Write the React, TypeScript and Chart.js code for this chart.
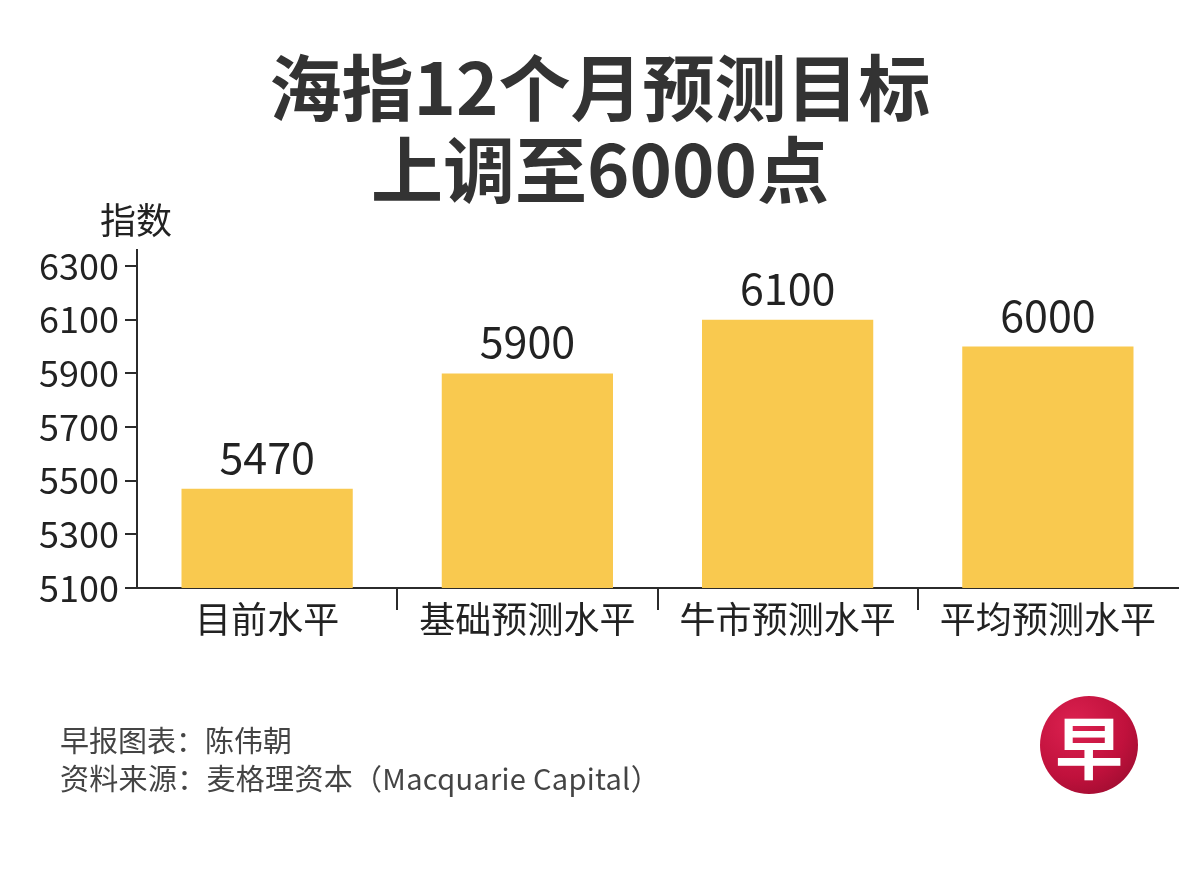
import React, { useEffect, useRef } from "react";
import { Chart, registerables } from "chart.js";

Chart.register(...registerables);

const titleLines = ["海指12个月预测目标", "上调至6000点"];
const yAxisTitle = "指数";
const categories = ["目前水平", "基础预测水平", "牛市预测水平", "平均预测水平"];
const values = [5470, 5900, 6100, 6000];
const yTicks = [5100, 5300, 5500, 5700, 5900, 6100, 6300];
const yMin = 5100;
const yMax = 6360;
const footerLines = ["早报图表：陈伟朝", "资料来源：麦格理资本（Macquarie Capital）"];
const logoText = "早";

const FONT = "'Noto Sans CJK SC', 'Noto Sans', sans-serif";
const BAR_COLOR = "#F9C94F";
const AXIS_COLOR = "#2b2b2b";
const TEXT_COLOR = "#222222";

const valueLabels = {
  id: "valueLabels",
  afterDatasetsDraw(chart: any) {
    const ctx = chart.ctx;
    const meta = chart.getDatasetMeta(0);
    const data = chart.data.datasets[0].data;
    ctx.save();
    ctx.font = `400 43px ${FONT}`;
    ctx.fillStyle = TEXT_COLOR;
    ctx.textAlign = "center";
    ctx.textBaseline = "alphabetic";
    meta.data.forEach((bar: any, i: number) => {
      ctx.fillText(String(data[i]), bar.x, bar.y - 15);
    });
    ctx.restore();
  },
};

function BarChart() {
  const ref = useRef<HTMLCanvasElement | null>(null);
  useEffect(() => {
    if (!ref.current) return;
    const chart = new Chart(ref.current, {
      type: "bar",
      data: {
        labels: categories,
        datasets: [
          {
            data: values,
            backgroundColor: BAR_COLOR,
            borderWidth: 0,
            categoryPercentage: 1,
            barPercentage: 0.658,
          },
        ],
      },
      options: {
        animation: false,
        responsive: true,
        maintainAspectRatio: false,
        layout: { padding: { left: 0, top: 250, right: 22, bottom: 232 } },
        plugins: {
          legend: { display: false },
          tooltip: { enabled: false },
          title: { display: false },
        },
        scales: {
          x: {
            afterFit: (s: any) => {
              s.height = 60;
            },
            grid: {
              offset: true,
              drawOnChartArea: false,
              drawTicks: true,
              tickLength: 22,
              lineWidth: 2,
              color: (c: any) =>
                c.type !== "tick" || c.index === 0 ? "rgba(0,0,0,0)" : AXIS_COLOR,
            },
            border: { display: true, color: AXIS_COLOR, width: 2 },
            ticks: {
              font: { family: FONT, size: 36 },
              color: TEXT_COLOR,
              padding: -12,
            },
          },
          y: {
            min: yMin,
            max: yMax,
            afterBuildTicks: (s: any) => {
              s.ticks = yTicks.map((v) => ({ value: v }));
            },
            afterFit: (s: any) => {
              s.width = 137;
            },
            grid: {
              drawOnChartArea: false,
              drawTicks: true,
              tickLength: 12,
              lineWidth: 2,
              color: AXIS_COLOR,
            },
            border: { display: true, color: AXIS_COLOR, width: 2 },
            ticks: {
              font: { family: FONT, size: 36 },
              color: TEXT_COLOR,
              padding: 6,
              callback: (v: any) => String(v),
            },
          },
        },
      },
      plugins: [valueLabels],
    });
    return () => chart.destroy();
  }, []);
  return (
    <canvas ref={ref} style={{ position: "absolute", left: 0, top: 0 }} />
  );
}

export default function App() {
  useEffect(() => {
    document.body.style.margin = "0";
  }, []);
  const titleStyle: React.CSSProperties = {
    position: "absolute",
    left: 0,
    width: 1200,
    textAlign: "center",
    fontFamily: FONT,
    fontWeight: 700,
    fontSize: 72,
    lineHeight: "72px",
    color: "#333333",
    whiteSpace: "nowrap",
  };
  const footStyle: React.CSSProperties = {
    position: "absolute",
    left: 60,
    fontFamily: FONT,
    fontSize: 29,
    lineHeight: "29px",
    color: "#444444",
    whiteSpace: "nowrap",
  };
  return (
    <div
      style={{
        position: "relative",
        width: 1200,
        height: 880,
        background: "#ffffff",
        overflow: "hidden",
      }}
    >
      <div style={{ position: "absolute", left: 0, top: 0, width: 1200, height: 880 }}>
        <BarChart />
      </div>
      <div style={{ ...titleStyle, top: 48 }}>{titleLines[0]}</div>
      <div style={{ ...titleStyle, top: 130 }}>{titleLines[1]}</div>
      <div
        style={{
          position: "absolute",
          left: 100,
          top: 200,
          fontFamily: FONT,
          fontSize: 36,
          lineHeight: "36px",
          color: TEXT_COLOR,
        }}
      >
        {yAxisTitle}
      </div>
      <div style={{ ...footStyle, top: 725 }}>{footerLines[0]}</div>
      <div style={{ ...footStyle, top: 763, letterSpacing: "0.3px" }}>{footerLines[1]}</div>
      <div
        style={{
          position: "absolute",
          left: 1040,
          top: 696,
          width: 98,
          height: 98,
          borderRadius: "50%",
          background:
            "radial-gradient(circle at 35% 30%, #dc2150 0%, #c0113c 55%, #8e0a2b 100%)",
          color: "#ffffff",
          fontFamily: FONT,
          fontWeight: 700,
          fontSize: 68,
          lineHeight: "98px",
          textAlign: "center",
        }}
      >
        {logoText}
      </div>
    </div>
  );
}
